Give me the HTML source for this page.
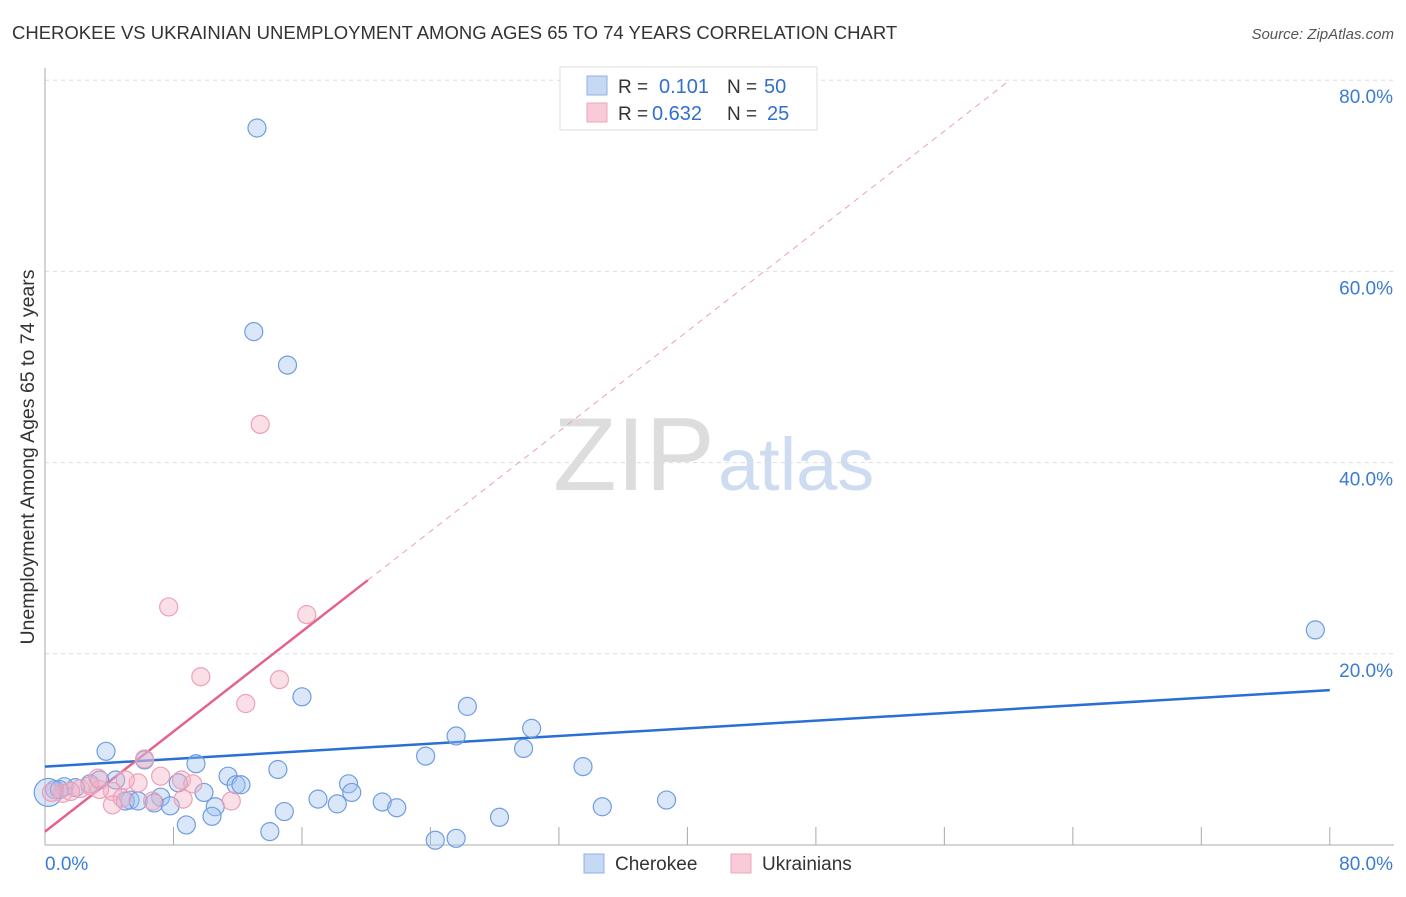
<!DOCTYPE html>
<html><head><meta charset="utf-8"><style>
body{margin:0;background:#fff;font-family:"Liberation Sans",sans-serif;}
svg text{font-family:"Liberation Sans",sans-serif;}
</style></head><body>
<svg id="chart" width="1406" height="892" xmlns="http://www.w3.org/2000/svg">
<text x="12" y="39" font-size="18.5" fill="#333">CHEROKEE VS UKRAINIAN UNEMPLOYMENT AMONG AGES 65 TO 74 YEARS CORRELATION CHART</text>
<text x="1394" y="39" font-size="15" fill="#555" text-anchor="end" font-style="italic">Source: ZipAtlas.com</text>
<text transform="translate(34,457) rotate(-90)" font-size="19.5" fill="#333" text-anchor="middle">Unemployment Among Ages 65 to 74 years</text>
<g><text x="553" y="490" font-size="104" fill="#ddd" font-family="Liberation Serif">ZIP</text><text x="718" y="490" font-size="74" fill="#cddcf0">atlas</text></g>
<g id="grid"></g><g id="axes"></g><g id="lines"></g><g id="pts"></g>
<g>
<rect x="560" y="67" width="257" height="63" fill="#fff" stroke="#ddd"/>
<rect x="587" y="76" width="20" height="19" fill="#c5d9f5" stroke="#8fb0e0"/>
<rect x="587" y="103" width="20" height="19" fill="#f9cbd8" stroke="#eda5ba"/>
<text x="618" y="93" font-size="19" fill="#333">R =</text><text x="659" y="93" font-size="20" fill="#2f6fd0">0.101</text>
<text x="727" y="93" font-size="19" fill="#333">N =</text><text x="764" y="93" font-size="20" fill="#2f6fd0">50</text>
<text x="618" y="120" font-size="19" fill="#333">R =</text><text x="652" y="120" font-size="20" fill="#2f6fd0">0.632</text>
<text x="727" y="120" font-size="19" fill="#333">N =</text><text x="767" y="120" font-size="20" fill="#2f6fd0">25</text>
</g>
<g>
<rect x="584" y="854" width="20" height="19" fill="#c5d9f5" stroke="#8fb0e0"/><text x="615" y="870" font-size="19" fill="#333">Cherokee</text>
<rect x="731" y="854" width="20" height="19" fill="#f9cbd8" stroke="#eda5ba"/><text x="762" y="870" font-size="19" fill="#333">Ukrainians</text>
</g>
</svg>
<script>
const yTicks=[20,40,60,80];
const yTickLabels=["20.0%","40.0%","60.0%","80.0%"];
const xTickLabels=["0.0%","80.0%"];
const cherokeeX=[13.2,13.0,15.1,79.1,16.0,26.3,30.3,25.6,29.8,23.7,3.8,6.2,9.4,14.5,33.5,11.4,4.4,11.9,12.2,18.9,8.3,9.9,19.1,1.2,2.8,3.4,0.6,7.2,5.3,5.0,5.8,6.8,7.8,17.0,18.2,21.0,21.9,10.6,10.4,34.7,38.7,14.9,8.8,14.0,28.3,24.3,25.6,0.2,1.9,0.9];
const cherokeeY=[75.0,53.7,50.2,22.5,15.5,14.5,12.2,11.4,10.1,9.3,9.8,8.9,8.5,7.9,8.2,7.2,6.8,6.3,6.3,6.4,6.5,5.5,5.5,6.1,6.4,6.8,5.8,5.0,4.7,4.6,4.6,4.4,4.1,4.8,4.3,4.5,3.9,4.0,3.0,4.0,4.7,3.5,2.1,1.4,2.9,0.5,0.7,5.5,6.0,5.8];
const ukrX=[13.4,7.7,16.3,9.7,14.6,12.5,6.2,7.2,8.5,9.2,5.8,4.2,2.2,3.4,4.8,6.7,8.6,11.6,4.2,1.1,1.6,0.4,2.8,5.0,3.3];
const ukrY=[44.0,24.9,24.1,17.6,17.3,14.8,9.0,7.2,6.8,6.4,6.5,5.6,5.9,5.8,4.9,4.6,4.8,4.6,4.2,5.4,5.6,5.5,6.2,6.8,7.0];
const blueLine=[8.2,16.2];
const pinkLine=[1.4,27.7,20.1];
const X=v=>45+v*16.06, Y=v=>845-v*9.56;
const NS="http://www.w3.org/2000/svg";
function mk(t,a,p){const e=document.createElementNS(NS,t);for(const k in a)e.setAttribute(k,a[k]);p.appendChild(e);return e;}
const grid=document.getElementById('grid'),axes=document.getElementById('axes'),lines=document.getElementById('lines'),pts=document.getElementById('pts');
yTicks.forEach((t,i)=>{
 const l=mk('line',{x1:45,x2:1394,y1:Y(t),y2:Y(t),stroke:'#ddd','stroke-dasharray':'4,4'},grid);
 
 
 const tx=mk('text',{x:1393,y:Y(t)+23,'font-size':19,fill:'#3a7bd5','text-anchor':'end'},axes);tx.textContent=yTickLabels[i];
 
 
});
const ax=mk('line',{x1:45,x2:45,y1:68,y2:845,stroke:'#aaa'},axes);


const bx=mk('line',{x1:45,x2:1394,y1:845,y2:845,stroke:'#aaa'},axes);


for(let i=1;i<=10;i++){const tk=mk('line',{x1:X(i*8),x2:X(i*8),y1:827,y2:845,stroke:'#aaa'},axes);
 
 }
[[0,45,'start'],[80,1393,'end']].forEach((d,i)=>{const t=mk('text',{x:d[1],y:870,'font-size':19,fill:'#3a7bd5','text-anchor':d[2]},axes);t.textContent=xTickLabels[i];
 
 });
const bl=mk('line',{x1:X(0),y1:Y(blueLine[0]),x2:X(80),y2:Y(blueLine[1]),stroke:'#2a6fd6','stroke-width':2.5},lines);


const slope=(pinkLine[1]-pinkLine[0])/pinkLine[2];
const pd=mk('line',{x1:X(pinkLine[2]),y1:Y(pinkLine[1]),x2:X((80-pinkLine[0])/slope),y2:Y(80),stroke:'#eba0b5','stroke-width':1,'stroke-dasharray':'6,5'},lines);


const pl=mk('line',{x1:X(0),y1:Y(pinkLine[0]),x2:X(pinkLine[2]),y2:Y(pinkLine[1]),stroke:'#e5628a','stroke-width':2.5},lines);


cherokeeX.forEach((v,i)=>{const c=mk('circle',{cx:X(v),cy:Y(cherokeeY[i]),r:i==47?14:9,fill:'rgba(160,195,240,0.4)',stroke:'#6f9de0','stroke-width':1.2},pts);
 
 });
ukrX.forEach((v,i)=>{const c=mk('circle',{cx:X(v),cy:Y(ukrY[i]),r:9,fill:'rgba(245,175,195,0.4)',stroke:'#eca0b8','stroke-width':1.2},pts);
 
 });
</script>
</body></html>
